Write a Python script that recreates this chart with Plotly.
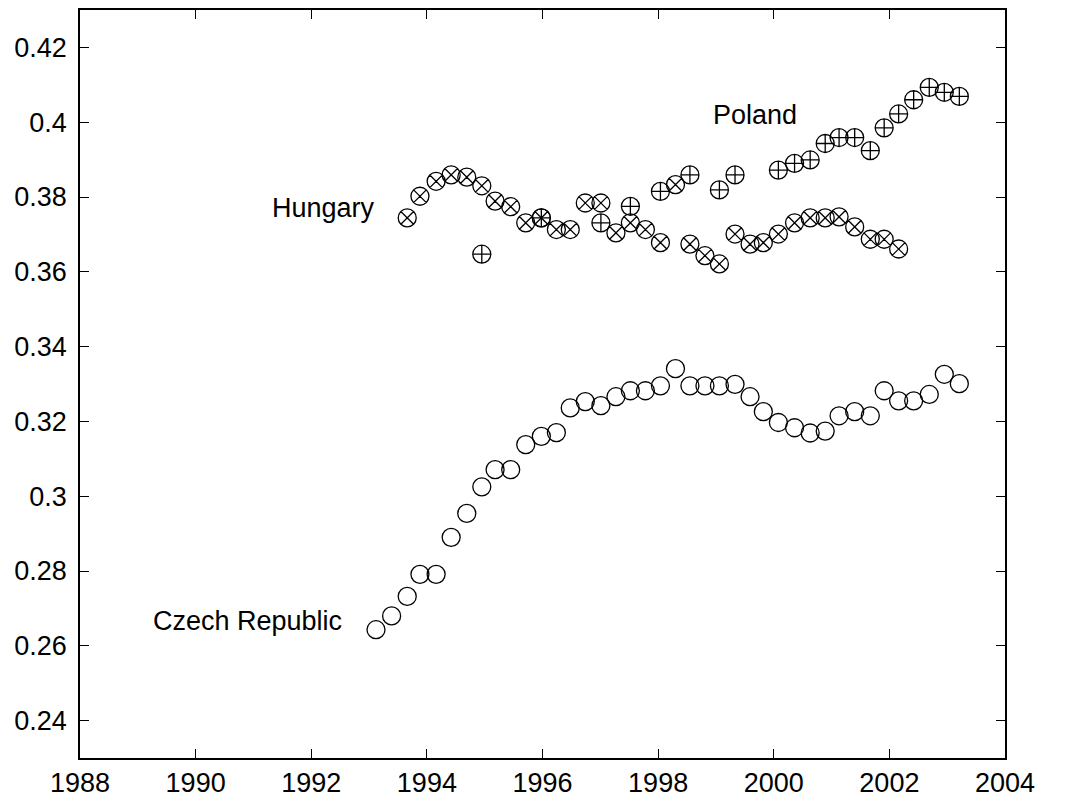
import plotly.graph_objects as go

dates = [1993.12, 1993.39, 1993.66, 1993.88, 1994.16, 1994.42, 1994.69, 1994.95,
         1995.18, 1995.45, 1995.71, 1995.98, 1996.24, 1996.48, 1996.74, 1997.01,
         1997.27, 1997.52, 1997.78, 1998.04, 1998.30, 1998.55, 1998.81, 1999.06,
         1999.33, 1999.59, 1999.82, 2000.08, 2000.36, 2000.63, 2000.89, 2001.13,
         2001.40, 2001.67, 2001.91, 2002.16, 2002.42, 2002.69, 2002.95, 2003.21]

czech = [0.2643, 0.2680, 0.2732, 0.2791, 0.2791, 0.2890, 0.2954, 0.3025,
         0.3071, 0.3071, 0.3138, 0.3160, 0.3170, 0.3236, 0.3253, 0.3242,
         0.3266, 0.3282, 0.3282, 0.3295, 0.3341, 0.3295, 0.3295, 0.3295,
         0.3299, 0.3266, 0.3226, 0.3197, 0.3183, 0.3169, 0.3174, 0.3215,
         0.3226, 0.3215, 0.3282, 0.3255, 0.3255, 0.3272, 0.3326, 0.3301]

hungary = [None, None, 0.3744, 0.3802, 0.3842, 0.3859, 0.3853, 0.3830,
           0.3789, 0.3774, 0.3731, 0.3744, 0.3713, 0.3713, 0.3784, 0.3784,
           0.3704, 0.3731, 0.3713, 0.3678, 0.3833, 0.3674, 0.3643, 0.3621,
           0.3701, 0.3674, 0.3678, 0.3701, 0.3731, 0.3744, 0.3744, 0.3747,
           0.3720, 0.3687, 0.3687, 0.3661, None, None, None, None]

poland = [None, None, None, None, None, None, None, 0.3647,
          None, None, None, 0.3744, None, None, None, 0.3731,
          None, 0.3775, None, 0.3815, None, 0.3859, None, 0.3819,
          0.3859, None, None, 0.3872, 0.3890, 0.3899, 0.3943, 0.3959,
          0.3959, 0.3924, 0.3985, 0.4022, 0.4060, 0.4093, 0.4080, 0.4069]

x_ticks = [1988, 1990, 1992, 1994, 1996, 1998, 2000, 2002, 2004]
y_ticks = [0.24, 0.26, 0.28, 0.30, 0.32, 0.34, 0.36, 0.38, 0.40, 0.42]

labels = [("Czech Republic", 1989.22, 0.2665),
          ("Hungary", 1991.28, 0.3770),
          ("Poland", 1998.92, 0.4020)]

FONT = "Liberation Sans, Arial, sans-serif"

def mk(symbol):
    return dict(symbol=symbol, size=18, color="black",
                line=dict(color="black", width=1.3))

fig = go.Figure()
fig.add_trace(go.Scatter(x=dates, y=czech, mode="markers", name="Czech Republic",
                         marker=mk("circle-open")))
fig.add_trace(go.Scatter(x=dates, y=hungary, mode="markers", name="Hungary",
                         marker=mk("circle-x-open")))
fig.add_trace(go.Scatter(x=dates, y=poland, mode="markers", name="Poland",
                         marker=mk("circle-cross-open")))

for txt, lx, ly in labels:
    fig.add_annotation(x=lx, y=ly, text=txt, showarrow=False, xanchor="left",
                       yanchor="middle", font=dict(family=FONT, size=27, color="black"))

axis_common = dict(showgrid=False, zeroline=False, showline=True, linecolor="black",
                   linewidth=1.5, mirror="ticks", ticks="inside", ticklen=9,
                   tickwidth=1.2, tickcolor="black",
                   tickfont=dict(family=FONT, size=27, color="black"))

fig.update_xaxes(range=[1988, 2004], tickvals=x_ticks, ticklabelstandoff=0,
                 ticktext=[str(t) for t in x_ticks], **axis_common)
fig.update_yaxes(range=[0.23, 0.43], tickvals=y_ticks, ticklabelstandoff=6,
                 ticktext=[f"{t:g}" for t in y_ticks], **axis_common)

fig.update_layout(width=1063, height=795, showlegend=False,
                  paper_bgcolor="white", plot_bgcolor="white",
                  margin=dict(l=72, r=66, t=0, b=45))

fig.write_html("out.html")
